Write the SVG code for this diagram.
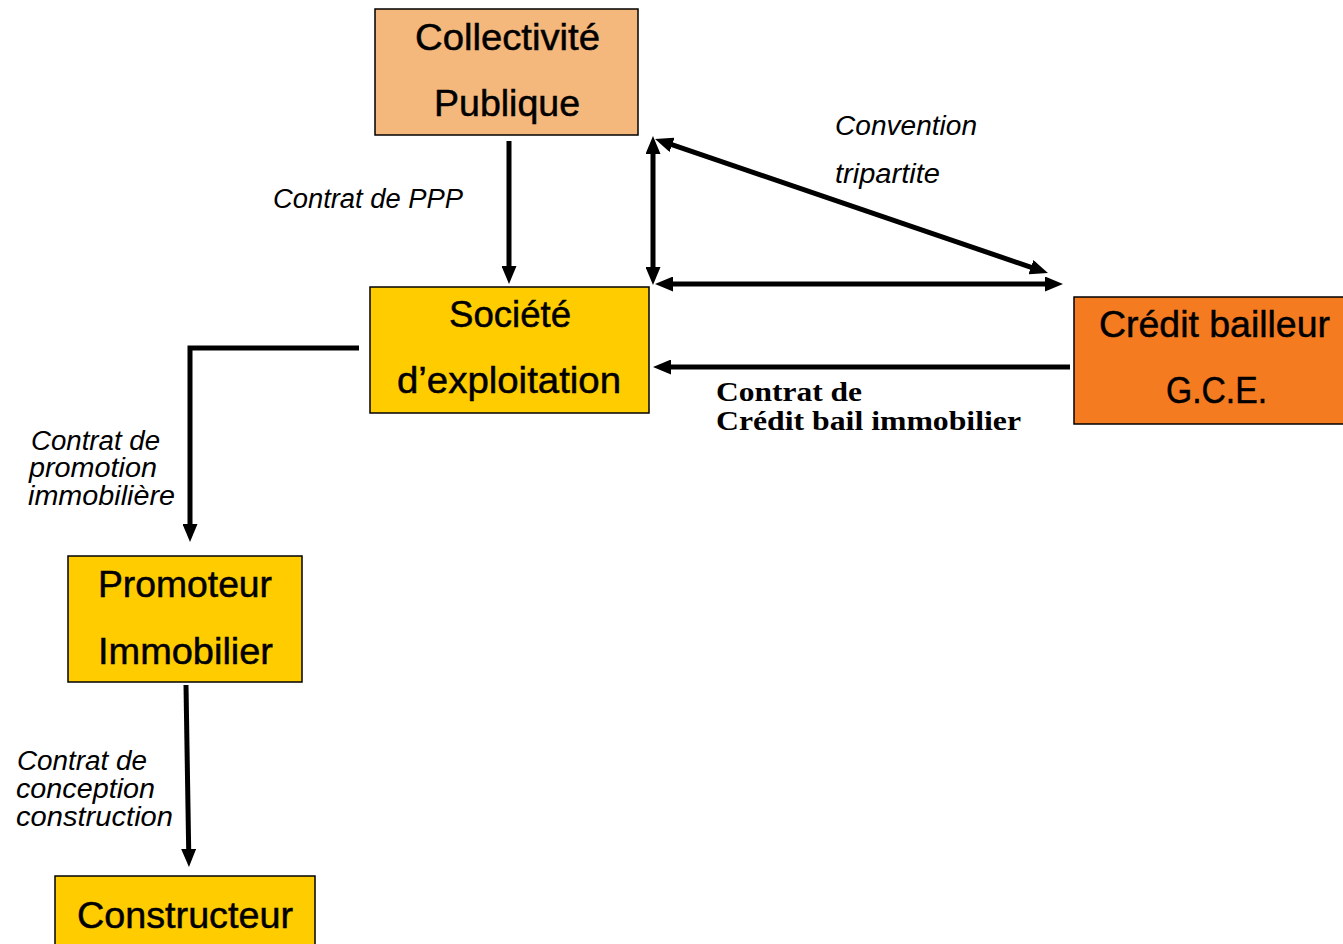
<svg xmlns="http://www.w3.org/2000/svg" width="1343" height="944" viewBox="0 0 1343 944">
<style>
.box{stroke:#000;stroke-width:1.5}
.nt{font-family:"Liberation Sans",Arial,sans-serif;font-size:37px;fill:#000;stroke:#000;stroke-width:0.5}
.lb{font-family:"Liberation Sans",Arial,sans-serif;font-size:27px;font-style:italic;fill:#000}
.sb{font-family:"Liberation Serif","Times New Roman",serif;font-size:28px;font-weight:bold;fill:#000}
.cn{fill:none;stroke:#000;stroke-width:5}
</style>
<defs>
<marker id="ah" markerUnits="userSpaceOnUse" markerWidth="18" markerHeight="15" refX="8" refY="7.5" orient="auto-start-reverse" viewBox="0 0 18 15">
<path d="M0,0 L18,7.5 L0,15 Z" fill="#000"/>
</marker>
</defs>
<rect width="1343" height="944" fill="#fff"/>
<g id="connectors">
<line class="cn" x1="509" y1="141" x2="509" y2="274" marker-end="url(#ah)"/>
<polyline class="cn" points="359,348 190,348 190,532" marker-end="url(#ah)"/>
<line class="cn" x1="186" y1="685" x2="188.8" y2="857" marker-end="url(#ah)"/>
<line class="cn" x1="653" y1="146" x2="653" y2="275" marker-start="url(#ah)" marker-end="url(#ah)"/>
<line class="cn" x1="664.5" y1="142.2" x2="1038.5" y2="269.8" marker-start="url(#ah)" marker-end="url(#ah)"/>
<line class="cn" x1="665" y1="284" x2="1053" y2="284" marker-start="url(#ah)" marker-end="url(#ah)"/>
<line class="cn" x1="1070" y1="367" x2="663" y2="367" marker-end="url(#ah)"/>
</g>
<g id="labels">
<text class="lb" x="273" y="208" textLength="190" lengthAdjust="spacingAndGlyphs">Contrat de PPP</text>
<text class="lb" x="835" y="135" textLength="142" lengthAdjust="spacingAndGlyphs">Convention</text>
<text class="lb" x="835" y="183" textLength="105" lengthAdjust="spacingAndGlyphs">tripartite</text>
<text class="sb" x="716" y="401" textLength="146" lengthAdjust="spacingAndGlyphs">Contrat de</text>
<text class="sb" x="716" y="430" textLength="305" lengthAdjust="spacingAndGlyphs">Crédit bail immobilier</text>
<text class="lb" x="31" y="450" textLength="129" lengthAdjust="spacingAndGlyphs">Contrat de</text>
<text class="lb" x="29" y="477" textLength="128" lengthAdjust="spacingAndGlyphs">promotion</text>
<text class="lb" x="28" y="505" textLength="147" lengthAdjust="spacingAndGlyphs">immobilière</text>
<text class="lb" x="17" y="770" textLength="130" lengthAdjust="spacingAndGlyphs">Contrat de</text>
<text class="lb" x="16" y="798" textLength="139" lengthAdjust="spacingAndGlyphs">conception</text>
<text class="lb" x="16" y="826" textLength="157" lengthAdjust="spacingAndGlyphs">construction</text>
</g>
<g id="collectivite">
<rect class="box" x="375" y="9" width="263" height="126" fill="#F4B77C"/>
<text class="nt" x="415" y="50" textLength="185" lengthAdjust="spacingAndGlyphs">Collectivité</text>
<text class="nt" x="434" y="116" textLength="146" lengthAdjust="spacingAndGlyphs">Publique</text>
</g>
<g id="societe">
<rect class="box" x="370" y="287" width="279" height="126" fill="#FFCC00"/>
<text class="nt" x="449" y="327" textLength="122" lengthAdjust="spacingAndGlyphs">Société</text>
<text class="nt" x="397" y="393" textLength="224" lengthAdjust="spacingAndGlyphs">d’exploitation</text>
</g>
<g id="credit">
<rect class="box" x="1074" y="297" width="275" height="127" fill="#F47B20"/>
<text class="nt" x="1099" y="337" textLength="231" lengthAdjust="spacingAndGlyphs">Crédit bailleur</text>
<text class="nt" x="1166" y="403" textLength="101" lengthAdjust="spacingAndGlyphs">G.C.E.</text>
</g>
<g id="promoteur">
<rect class="box" x="68" y="556" width="234" height="126" fill="#FFCC00"/>
<text class="nt" x="98" y="597" textLength="174" lengthAdjust="spacingAndGlyphs">Promoteur</text>
<text class="nt" x="98" y="664" textLength="175" lengthAdjust="spacingAndGlyphs">Immobilier</text>
</g>
<g id="constructeur">
<rect class="box" x="55" y="876" width="260" height="80" fill="#FFCC00"/>
<text class="nt" x="77" y="928" textLength="216" lengthAdjust="spacingAndGlyphs">Constructeur</text>
</g>
</svg>
